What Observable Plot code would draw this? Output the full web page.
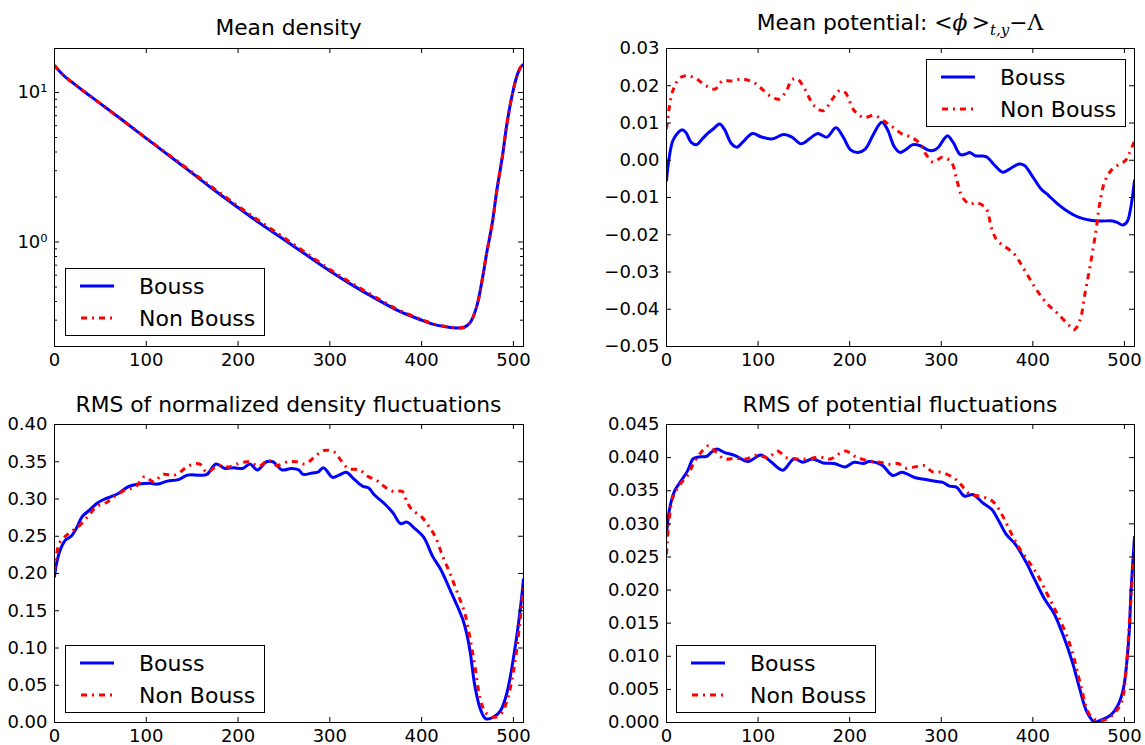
<!DOCTYPE html>
<html>
<head>
<meta charset="utf-8">
<script src="https://cdn.jsdelivr.net/npm/d3@7"></script>
<script src="https://cdn.jsdelivr.net/npm/@observablehq/plot@0.6"></script>
<style>
  html, body { margin: 0; padding: 0; background: white; }
  #fig { position: relative; width: 1145px; height: 745px; background: white; font-family: "DejaVu Sans", sans-serif; overflow: hidden; }
  .title { position: absolute; text-align: center; font-size: 21.8px; line-height: 24px; color: black; white-space: nowrap; }
  .math { font-family: "DejaVu Serif", serif; }
  .abs { position: absolute; }
</style>
</head>
<body>
<div id="fig"></div>
<script>
// ---------- data ----------
const xTicks = [0, 100, 200, 300, 400, 500];
const seriesNames = ["Bouss", "Non Bouss"];

// Panel 1: Mean density (log scale)
const densX = [0,5,10,15,20,30,50,75,100,125,150,175,200,225,250,275,300,325,350,375,400,413,425,435,446,453,460,466,471,477,482,488,493,499,504,508,511];
const densBouss = [15.1,14.0,13.0,12.25,11.6,10.4,8.43,6.47,4.93,3.78,2.89,2.2,1.70,1.32,1.04,0.815,0.64,0.513,0.418,0.346,0.300,0.281,0.272,0.267,0.268,0.29,0.37,0.56,0.85,1.34,2.23,3.73,6.2,9.85,13.0,14.8,15.4];
const densNonBouss = [15.2,14.0,13.0,12.25,11.6,10.4,8.43,6.47,4.95,3.81,2.93,2.25,1.74,1.36,1.07,0.838,0.656,0.525,0.427,0.351,0.303,0.283,0.273,0.268,0.269,0.29,0.37,0.56,0.85,1.34,2.23,3.73,6.2,9.85,13.0,14.8,15.4];
const densTicks = [1, 10];
const densMinor = [0.3,0.4,0.5,0.6,0.7,0.8,0.9,2,3,4,5,6,7,8,9];

// Panel 2: Mean potential
const potBoussX = [0,3,7,13,17,21,27,33,39,45,51,58,63,71,77,83,94,103,115,128,137,147,157,165,175,185,193,201,209,217,226,235,241,249,255,261,269,277,285,291,297,303,307,313,321,327,331,337,349,357,367,375,385,391,399,409,417,427,439,449,463,475,487,493,498,503,507,511];
const potBouss = [-0.0054,0.0008,0.0053,0.0075,0.0082,0.0075,0.0048,0.0042,0.0057,0.0072,0.0084,0.0097,0.0084,0.0044,0.0035,0.0048,0.0072,0.0063,0.0057,0.0069,0.0062,0.0044,0.0059,0.0072,0.0062,0.0087,0.0062,0.0028,0.0021,0.003,0.0070,0.0102,0.0084,0.0035,0.0021,0.0028,0.0042,0.0039,0.0028,0.0026,0.0035,0.0057,0.0066,0.0048,0.0015,0.0017,0.0021,0.0012,0.001,-0.001,-0.0032,-0.0023,-0.001,-0.0014,-0.0041,-0.0077,-0.0094,-0.0117,-0.0139,-0.0152,-0.0161,-0.0163,-0.0163,-0.0168,-0.0174,-0.0165,-0.0126,-0.0055];
const potNonX = [0,2,5,9,15,23,33,43,53,61,71,83,95,103,113,123,131,137,143,151,161,171,181,189,195,205,215,227,237,247,257,267,277,283,291,301,311,317,323,331,339,349,355,361,379,391,403,415,427,439,445,451,457,463,469,473,479,487,495,501,505,511];
const potNonBouss = [0.0084,0.0124,0.0169,0.020,0.0222,0.0227,0.0218,0.020,0.0191,0.0213,0.0213,0.0218,0.0209,0.0194,0.0173,0.0164,0.0187,0.0216,0.0218,0.0191,0.0147,0.0133,0.0164,0.0187,0.0182,0.0133,0.0115,0.0120,0.0106,0.0089,0.0071,0.0062,0.0044,0.0017,-0.0005,0.0008,-0.0005,-0.0054,-0.0099,-0.0117,-0.0114,-0.013,-0.0183,-0.0215,-0.025,-0.0295,-0.0344,-0.0384,-0.0411,-0.0442,-0.0455,-0.0433,-0.0357,-0.0277,-0.0188,-0.0117,-0.0054,-0.0023,-0.001,-0.0001,0.0017,0.0052];
const potTicks = [-0.05,-0.04,-0.03,-0.02,-0.01,0,0.01,0.02,0.03];

// Panel 3: RMS of normalized density fluctuations
const rmsDBoussX = [0,3,7,12,18,24,30,38,46,53,61,69,81,92,104,112,123,135,145,158,166,176,186,195,205,213,221,231,238,248,258,266,271,281,287,293,303,310,318,326,336,342,349,361,369,377,384,392,402,412,421,431,439,445,449,453,458,464,470,478,486,493,501,507,511];
const rmsDBouss = [0.196,0.218,0.234,0.245,0.250,0.261,0.276,0.285,0.294,0.299,0.303,0.307,0.317,0.320,0.321,0.320,0.324,0.326,0.332,0.332,0.333,0.347,0.341,0.342,0.341,0.347,0.339,0.350,0.350,0.339,0.341,0.339,0.333,0.335,0.336,0.342,0.329,0.332,0.336,0.327,0.317,0.315,0.305,0.292,0.281,0.267,0.269,0.261,0.249,0.223,0.205,0.178,0.156,0.138,0.120,0.094,0.049,0.018,0.005,0.007,0.016,0.040,0.094,0.147,0.192];
const rmsDNonX = [0,5,11,18,26,36,46,55,65,77,89,98,108,118,131,147,158,166,178,190,199,211,223,233,242,254,264,273,283,293,305,312,320,332,342,351,359,369,379,384,390,400,408,415,423,431,439,447,453,458,464,470,478,486,493,501,507,511];
const rmsDNonBouss = [0.203,0.24,0.249,0.256,0.263,0.276,0.29,0.294,0.303,0.312,0.317,0.33,0.323,0.333,0.332,0.345,0.347,0.336,0.345,0.343,0.347,0.35,0.344,0.352,0.345,0.35,0.35,0.347,0.356,0.365,0.363,0.352,0.341,0.339,0.33,0.325,0.317,0.31,0.31,0.296,0.285,0.276,0.263,0.249,0.223,0.200,0.174,0.147,0.111,0.076,0.031,0.013,0.007,0.011,0.029,0.076,0.134,0.183];
const rmsDTicks = [0,0.05,0.10,0.15,0.20,0.25,0.30,0.35,0.40];

// Panel 4: RMS of potential fluctuations
const rmsPBoussX = [0,3,9,15,23,29,35,44,49,55,63,75,89,103,113,127,139,149,159,171,183,195,205,215,221,235,247,257,271,283,295,301,309,317,325,335,345,355,363,371,381,393,403,413,423,433,443,451,459,467,475,485,493,499,505,507,511];
const rmsPBouss = [0.0282,0.032,0.035,0.0363,0.038,0.0398,0.0401,0.0402,0.0408,0.0413,0.0408,0.0403,0.0394,0.0404,0.0395,0.0381,0.0398,0.0393,0.0398,0.0392,0.0391,0.0386,0.0393,0.0391,0.0394,0.0389,0.0373,0.0378,0.037,0.0367,0.0364,0.0363,0.0357,0.0355,0.0342,0.0344,0.0332,0.0322,0.0304,0.0284,0.0269,0.0241,0.0213,0.0186,0.0165,0.0132,0.0092,0.0052,0.0016,0.0001,0.0004,0.0011,0.0026,0.0052,0.0132,0.0193,0.0280];
const rmsPNonX = [0,2,7,15,23,31,39,46,53,63,75,87,99,111,121,131,143,155,167,179,195,207,221,233,243,253,261,271,281,291,299,313,321,331,341,353,359,367,377,385,395,405,415,425,435,443,453,461,469,479,489,497,502,505,509,511];
const rmsPNonBouss = [0.0254,0.0294,0.034,0.036,0.0373,0.0395,0.041,0.0418,0.041,0.0398,0.0399,0.0398,0.0404,0.04,0.041,0.04,0.0398,0.0398,0.0401,0.0398,0.041,0.0401,0.0395,0.0393,0.039,0.0391,0.0384,0.0386,0.0388,0.0378,0.0378,0.037,0.036,0.0345,0.0342,0.0337,0.033,0.0312,0.0284,0.0264,0.0244,0.0223,0.0196,0.0168,0.0138,0.0107,0.0052,0.0014,0.0004,0.0004,0.0014,0.0031,0.0082,0.0143,0.0224,0.0262];
const rmsPTicks = [0,0.005,0.010,0.015,0.020,0.025,0.030,0.035,0.040,0.045];

// ---------- drawing ----------
const BLUE = "#0000ff", RED = "#ff0000", DASH = "6,5,2,5";
const fig = document.getElementById("fig");
const rows = (xs, ys) => xs.map((x, i) => ({x, y: ys[i]}));

function panel(o) {
  const plotH = o.height - o.mt - o.mb;
  const plotW = o.width - o.ml - o.mr;
  const marks = [
    Plot.line(rows(o.bx, o.by), {x: "x", y: "y", stroke: BLUE, strokeWidth: 3, curve: "catmull-rom", clip: true}),
    Plot.line(rows(o.nx, o.ny), {x: "x", y: "y", stroke: RED, strokeWidth: 3, strokeDasharray: DASH, strokeLinecap: "butt", curve: "catmull-rom", clip: true}),
    Plot.tickX(xTicks, {x: d => d, stroke: "black", insetTop: plotH - 5}),
    Plot.tickX(xTicks, {x: d => d, stroke: "black", insetBottom: plotH - 5}),
    Plot.tickY(o.yTicks, {y: d => d, stroke: "black", insetRight: plotW - 5}),
    Plot.tickY(o.yTicks, {y: d => d, stroke: "black", insetLeft: plotW - 5}),
  ];
  if (o.yMinor) {
    marks.push(Plot.tickY(o.yMinor, {y: d => d, stroke: "black", insetRight: plotW - 3}));
    marks.push(Plot.tickY(o.yMinor, {y: d => d, stroke: "black", insetLeft: plotW - 3}));
  }
  marks.push(
    Plot.frame({stroke: "black", strokeWidth: 1}),
    Plot.axisX(xTicks, {tickSize: 0, tickPadding: 7, fontSize: 18, label: null, tickFormat: d => String(d)}),
    Plot.axisY(o.yTicks, {tickSize: 0, tickPadding: 7, fontSize: 18, label: null, tickFormat: o.yFmt})
  );
  const svg = Plot.plot({
    width: o.width, height: o.height,
    marginTop: o.mt, marginRight: o.mr, marginBottom: o.mb, marginLeft: o.ml,
    x: {domain: [0, 511]},
    y: {type: o.yType || "linear", domain: o.yDomain},
    style: {fontFamily: "DejaVu Sans", fontSize: "18px", color: "black", background: "transparent", overflow: "visible"},
    marks
  });
  svg.style.position = "absolute";
  svg.style.left = o.left + "px";
  svg.style.top = o.top + "px";
  fig.appendChild(svg);

  const t = document.createElement("div");
  t.className = "title";
  t.style.left = (o.left + o.ml) + "px";
  t.style.width = plotW + "px";
  t.style.top = o.titleTop + "px";
  t.innerHTML = o.title;
  fig.appendChild(t);

  // legend
  const ns = "http://www.w3.org/2000/svg";
  const lg = document.createElementNS(ns, "svg");
  lg.setAttribute("width", 200); lg.setAttribute("height", 68);
  lg.setAttribute("class", "abs");
  lg.style.left = o.legend[0] + "px"; lg.style.top = o.legend[1] + "px";
  lg.innerHTML = `<rect x="0.5" y="0.5" width="199" height="67" fill="white" stroke="black" stroke-width="1"/>
    <line x1="15" x2="49" y1="18" y2="18" stroke="${BLUE}" stroke-width="3"/>
    <text x="74" y="26" font-family="DejaVu Sans" font-size="22" fill="black">${seriesNames[0]}</text>
    <line x1="15" x2="49" y1="50" y2="50" stroke="${RED}" stroke-width="3" stroke-dasharray="${DASH}" stroke-dashoffset="-1"/>
    <text x="74" y="58" font-family="DejaVu Sans" font-size="22" fill="black">${seriesNames[1]}</text>`;
  fig.appendChild(lg);
}

panel({left: 0, top: 40, width: 570, height: 340, mt: 8, mr: 47, mb: 34, ml: 54,
  yType: "log", yDomain: [0.2, 19.7], yTicks: densTicks, yMinor: densMinor,
  yFmt: d => d === 1 ? "10\u2070" : "10\u00b9",
  bx: densX, by: densBouss, nx: densX, ny: densNonBouss,
  title: "Mean density", titleTop: 15.5, legend: [65, 268]});

panel({left: 570, top: 40, width: 575, height: 340, mt: 8, mr: 11, mb: 34, ml: 96,
  yDomain: [-0.05, 0.03], yTicks: potTicks, yFmt: d3.format(".2f"),
  bx: potBoussX, by: potBouss, nx: potNonX, ny: potNonBouss,
  title: 'Mean potential: <span class="math">&lt;<i>\u03d5</i>&thinsp;&gt;<sub style="font-size:15px"><i>t,y</i></sub>\u2212\u039b</span>',
  titleTop: 11, legend: [926, 59]});

panel({left: 0, top: 410, width: 570, height: 335, mt: 14, mr: 47, mb: 23, ml: 54,
  yDomain: [0, 0.4], yTicks: rmsDTicks, yFmt: d3.format(".2f"),
  bx: rmsDBoussX, by: rmsDBouss, nx: rmsDNonX, ny: rmsDNonBouss,
  title: "RMS of normalized density fluctuations", titleTop: 392.5, legend: [65, 645]});

panel({left: 570, top: 410, width: 575, height: 335, mt: 14, mr: 11, mb: 23, ml: 96,
  yDomain: [0, 0.045], yTicks: rmsPTicks, yFmt: d3.format(".3f"),
  bx: rmsPBoussX, by: rmsPBouss, nx: rmsPNonX, ny: rmsPNonBouss,
  title: "RMS of potential fluctuations", titleTop: 392.5, legend: [676, 645]});
</script>
</body>
</html>
